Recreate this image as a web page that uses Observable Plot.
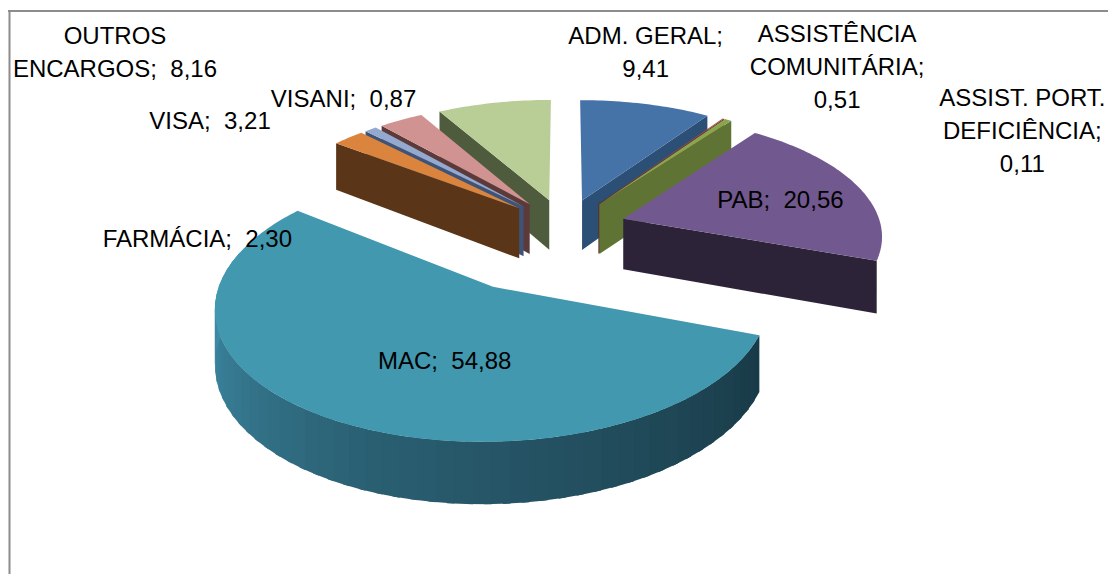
<!DOCTYPE html>
<html>
<head>
<meta charset="utf-8">
<script src="https://cdn.jsdelivr.net/npm/d3@7"></script>
<script src="https://cdn.jsdelivr.net/npm/@observablehq/plot@0.6"></script>
<style>html,body{margin:0;padding:0;background:#fff}svg{display:block}</style>
</head>
<body>
<div id="chart"></div>
<script>
// Data: clockwise from twelve o'clock
const names = ["ADM. GERAL","ASSIST. PORT.\nDEFICIÊNCIA","ASSISTÊNCIA\nCOMUNITÁRIA","PAB","MAC","FARMÁCIA","VISANI","VISA","OUTROS\nENCARGOS"];
const values = [9.41,0.11,0.51,20.56,54.88,2.30,0.87,3.21,8.16];
const valueLabels = ["9,41","0,11","0,51","20,56","54,88","2,30","0,87","3,21","8,16"];
const topColors = ["#4572A7","#AA4643","#89A54E","#71588F","#4198AF","#DB843D","#93A9CF","#D19392","#B9CD96"];
const wallColors = ["#2C4F76","#5E2A28","#5F7434","#2C2339","#1A3C49","#5A3517","#3D5478","#5C3A3A","#4F5B3D"];
const explode = [0.24,0.24,0.24,0.24,0.54,0.24,0.24,0.24,0.24];
const paintOrder = [0,1,2,3,8,7,6,5,4];
// Label layout: text centre relative to the slice's projected mid-rim point, and line break form
const labelNudge = [[0,-54],[299,10],[109,-56],[-77,11],[111,-62],[-151,99],[-27,-33],[-191,-1],[-379,-53]];
const labelBreak = [";\n",";\n",";\n",";  ",";  ",";  ",";  ",";  ",";  "];

// 3D pie projection
const cx=564, cy=226.5, A=258, B=119, K=0.125, D=51;
function project(X,Y,z){const w=1+K*Y;return [cx+A*X/w, cy-B*Y/w+z*D/w];}
const total=d3.sum(values);
let cum=0;
const slices=values.map((v,i)=>{const a0=cum/total*2*Math.PI;cum+=v;const a1=cum/total*2*Math.PI;const m=(a0+a1)/2;
  return {i,a0,a1,m,ox:explode[i]*Math.sin(m),oy:explode[i]*Math.cos(m)};});
const rim=(s,a,z)=>project(s.ox+Math.sin(a),s.oy+Math.cos(a),z);
const apex=(s,z)=>project(s.ox,s.oy,z);
const polys=[];let pid=0;
function addPoly(pts,fill){const id=pid++;pts.forEach(p=>polys.push({x:p[0],y:p[1],id,fill}));}
const shade=d3.scaleLinear().domain([0,0.45,1]).range(["#3F8EA9","#2A5F72","#193A47"]);
for(const k of paintOrder){
  const s=slices[k];
  const n=Math.max(2,Math.ceil((s.a1-s.a0)/0.02));
  const as=d3.range(n+1).map(j=>s.a0+(s.a1-s.a0)*j/n);
  if(k<4){ // right-hand slices show their closing cut
    addPoly([apex(s,0),rim(s,s.a1,0),rim(s,s.a1,1),apex(s,1)],wallColors[k]);
  } else if(k>4){ // left-hand slices show their opening cut
    addPoly([apex(s,0),rim(s,s.a0,0),rim(s,s.a0,1),apex(s,1)],wallColors[k]);
  } else { // outer rim with the shading from light (left) to dark (right)
    const m=Math.ceil((s.a1-s.a0)/0.06);
    for(let j=0;j<m;j++){
      const a=s.a0+(s.a1-s.a0)*j/m,b=s.a0+(s.a1-s.a0)*(j+1.4)/m;
      if(a>4.95) continue;
      const t=1-(a-s.a0)/(4.75-s.a0);
      addPoly([rim(s,a,0),rim(s,b,0),rim(s,b,1),rim(s,a,1)],shade(Math.max(0,Math.min(1,t))));
    }
  }
  addPoly([apex(s,0),...as.map(a=>rim(s,a,0))],topColors[k]);
}
const labels=slices.map((s,i)=>{const p=rim(s,s.m,0);
  return {x:p[0]+labelNudge[i][0],y:p[1]+labelNudge[i][1],text:names[i]+labelBreak[i]+valueLabels[i]};});

const plot=Plot.plot({
  width:1108,height:574,margin:0,
  x:{domain:[0,1108],range:[0,1108],axis:null},
  y:{domain:[0,574],range:[0,574],axis:null},
  marks:[
    Plot.ruleY([10.5],{x1:8,x2:1108,stroke:"#8c8c8c",strokeWidth:2}),
    Plot.ruleX([9],{y1:10,y2:574,stroke:"#8c8c8c",strokeWidth:2}),
    Plot.line(polys,{x:"x",y:"y",z:"id",fill:"fill",stroke:"none",curve:"linear-closed"}),
    Plot.text(labels,{x:"x",y:"y",text:"text",fontSize:24,lineHeight:1.375,fill:"#000",lineAnchor:"middle",textAnchor:"middle",fontFamily:"'Liberation Sans',Arial,sans-serif"})
  ]
});
document.getElementById("chart").appendChild(plot);
</script>
</body>
</html>
